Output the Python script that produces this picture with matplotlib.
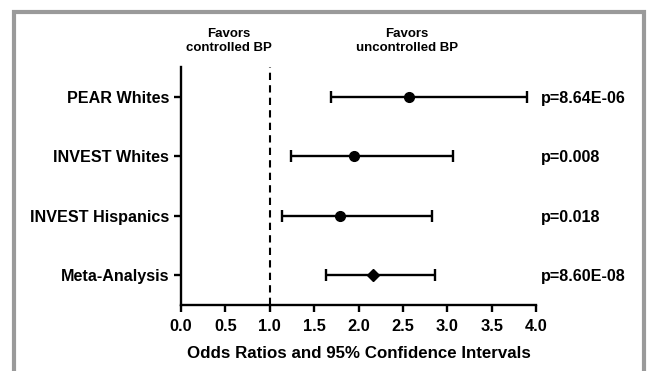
import matplotlib
matplotlib.use("Agg")
import matplotlib.pyplot as plt
from matplotlib.patches import Rectangle

categories = ["PEAR Whites", "INVEST Whites", "INVEST Hispanics", "Meta-Analysis"]
odds_ratio = [2.57, 1.95, 1.79, 2.16]
ci_low = [1.69, 1.24, 1.14, 1.63]
ci_high = [3.90, 3.07, 2.83, 2.86]
p_values = ["p=8.64E-06", "p=0.008", "p=0.018", "p=8.60E-08"]
markers = ["o", "o", "o", "D"]
x_ticks = [0.0, 0.5, 1.0, 1.5, 2.0, 2.5, 3.0, 3.5, 4.0]

plt.rcParams['font.family'] = ['Liberation Sans', 'DejaVu Sans']

W, H = 647, 371
fig = plt.figure(figsize=(W/100, H/100), dpi=100)
ax = fig.add_axes([181/W, (H-305)/H, 355/W, 238/H])

n = len(categories)
ys = [n-1-i for i in range(n)]
for y, o, lo, hi, m in zip(ys, odds_ratio, ci_low, ci_high, markers):
    ax.errorbar([o], [y], xerr=[[o-lo], [hi-o]], fmt=m, color='black',
                ms=7 if m == 'o' else 6.5, elinewidth=1.7, capsize=4.5, capthick=1.7)

ax.axvline(1.0, color='black', ls=(0, (3.5, 2.5)), lw=1.5)
ax.set_xlim(0, 4)
ax.set_ylim(-0.5, 3.5)
ax.set_xticks(x_ticks)
ax.set_xticklabels([f"{t:.1f}" for t in x_ticks], fontsize=11.8, fontweight='bold')
ax.set_yticks(ys)
ax.set_yticklabels(categories, fontsize=11.6, fontweight='bold')
ax.tick_params(width=1.7, length=5, direction='out')
ax.tick_params(axis='x', pad=5)
for s in ['top', 'right']:
    ax.spines[s].set_visible(False)
for s in ['left', 'bottom']:
    ax.spines[s].set_linewidth(1.7)
ax.set_xlabel("Odds Ratios and 95% Confidence Intervals", fontsize=12.2,
              fontweight='bold', labelpad=9)

for y, p in zip(ys, p_values):
    ax.text(541/W, ax.transData.transform((0, y))[1] / fig.bbox.height,
            p, transform=fig.transFigure, fontsize=11.6, fontweight='bold',
            va='center_baseline', ha='left')

fig.text(229/W, 1-41/H, "Favors\ncontrolled BP", ha='center', va='center',
         fontsize=9.5, fontweight='bold', linespacing=1.15)
fig.text(407/W, 1-41/H, "Favors\nuncontrolled BP", ha='center', va='center',
         fontsize=9.5, fontweight='bold', linespacing=1.15)

fig.patches.append(Rectangle((14/W, -0.1), 630/W, 1 - 12/H + 0.1,
                             transform=fig.transFigure, fill=False,
                             edgecolor='#9a9a9a', lw=3))

fig.savefig("out.png", dpi=100)
